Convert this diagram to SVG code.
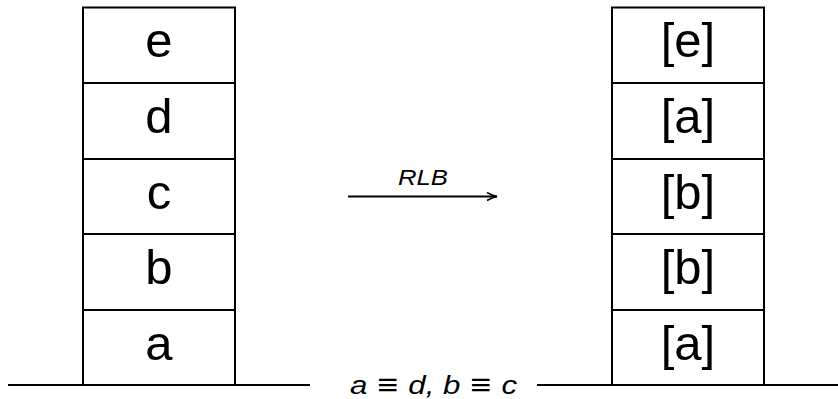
<svg xmlns="http://www.w3.org/2000/svg" width="838" height="399" viewBox="0 0 838 399">
<defs>
<style>
.box{fill:#fff;stroke:#000;stroke-width:2}
.lbl{font-family:"Liberation Sans","DejaVu Sans",sans-serif;font-size:49px;text-anchor:middle;fill:#000}
.ln{stroke:#000;stroke-width:2;fill:none}
.it{font-family:"Liberation Sans","DejaVu Sans",sans-serif;font-style:italic;fill:#000}
</style>
<marker id="ah" markerWidth="12" markerHeight="10" refX="11" refY="5" orient="auto" markerUnits="userSpaceOnUse">
<path d="M1,1 Q6,4 11,5 Q6,6 1,9" fill="none" stroke="#000" stroke-width="1.6"/>
</marker>
</defs>
<g id="connectors">
<line class="ln" x1="8" y1="385" x2="310" y2="385"/>
<line class="ln" x1="537" y1="385" x2="838" y2="385"/>
<line class="ln" x1="348" y1="196.5" x2="497" y2="196.5" marker-end="url(#ah)"/>
<text class="it" x="398" y="185" font-size="22" textLength="50" lengthAdjust="spacingAndGlyphs">RLB</text>
<text class="it" x="350" y="393.5" font-size="26" textLength="167" lengthAdjust="spacingAndGlyphs">a<tspan font-size="30" dy="1"> ≡ </tspan><tspan dy="-1">d, b</tspan><tspan font-size="30" dy="1"> ≡ </tspan><tspan dy="-1">c</tspan></text>
</g>
<g id="left-e"><rect class="box" x="83" y="7.5" width="152" height="75.5"/><text class="lbl" x="159" y="57">e</text></g>
<g id="left-d"><rect class="box" x="83" y="83" width="152" height="76"/><text class="lbl" x="159" y="133">d</text></g>
<g id="left-c"><rect class="box" x="83" y="159" width="152" height="75"/><text class="lbl" x="159" y="208.5">c</text></g>
<g id="left-b"><rect class="box" x="83" y="234" width="152" height="76"/><text class="lbl" x="159" y="284">b</text></g>
<g id="left-a"><rect class="box" x="83" y="310" width="152" height="75"/><text class="lbl" x="159" y="359.5">a</text></g>
<g id="right-e"><rect class="box" x="612" y="7.5" width="152" height="75.5"/><text class="lbl" x="688" y="57">[e]</text></g>
<g id="right-a1"><rect class="box" x="612" y="83" width="152" height="76"/><text class="lbl" x="688" y="133">[a]</text></g>
<g id="right-b1"><rect class="box" x="612" y="159" width="152" height="75"/><text class="lbl" x="688" y="208.5">[b]</text></g>
<g id="right-b2"><rect class="box" x="612" y="234" width="152" height="76"/><text class="lbl" x="688" y="284">[b]</text></g>
<g id="right-a2"><rect class="box" x="612" y="310" width="152" height="75"/><text class="lbl" x="688" y="359.5">[a]</text></g>
</svg>
